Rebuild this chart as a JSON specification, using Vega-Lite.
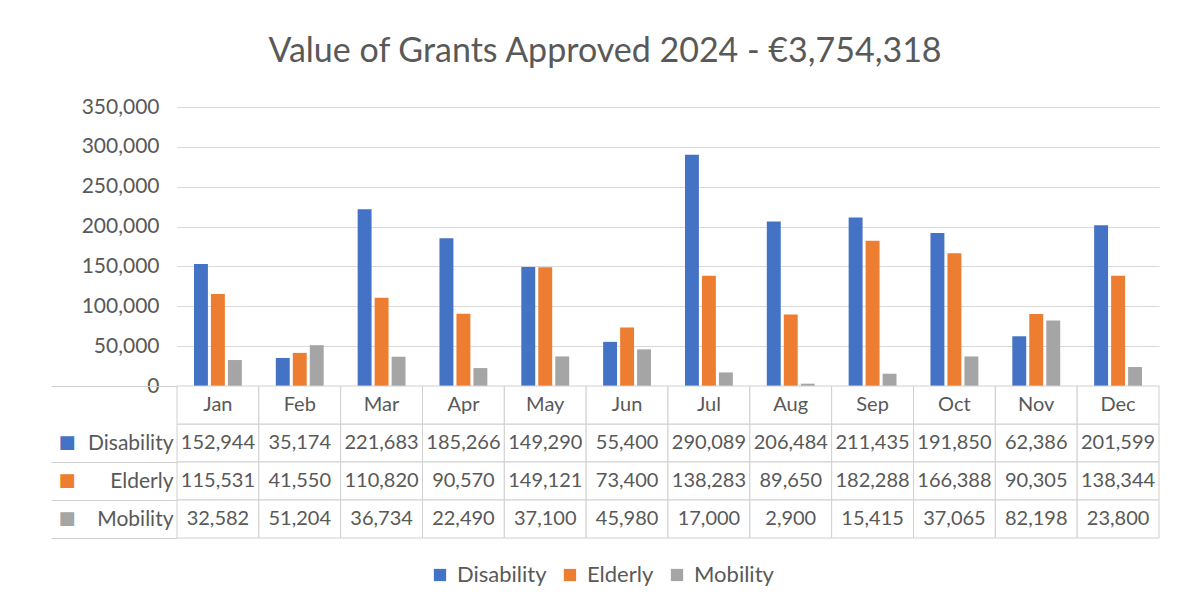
{
  "$schema": "https://vega.github.io/schema/vega-lite/v6.json",
  "background": "white",
  "padding": {"left": 50, "top": 35, "right": 10, "bottom": 8},
  "bounds": "flush",
  "title": {"text": "Value of Grants Approved 2024 - €3,754,318", "fontSize": 34, "font": "Lato", "fontWeight": "normal", "color": "#595959", "anchor": "middle", "offset": 27},
  "data": {"values": [
    {"month": "Jan", "series": "Disability", "value": 152944},
    {"month": "Jan", "series": "Elderly", "value": 115531},
    {"month": "Jan", "series": "Mobility", "value": 32582},
    {"month": "Feb", "series": "Disability", "value": 35174},
    {"month": "Feb", "series": "Elderly", "value": 41550},
    {"month": "Feb", "series": "Mobility", "value": 51204},
    {"month": "Mar", "series": "Disability", "value": 221683},
    {"month": "Mar", "series": "Elderly", "value": 110820},
    {"month": "Mar", "series": "Mobility", "value": 36734},
    {"month": "Apr", "series": "Disability", "value": 185266},
    {"month": "Apr", "series": "Elderly", "value": 90570},
    {"month": "Apr", "series": "Mobility", "value": 22490},
    {"month": "May", "series": "Disability", "value": 149290},
    {"month": "May", "series": "Elderly", "value": 149121},
    {"month": "May", "series": "Mobility", "value": 37100},
    {"month": "Jun", "series": "Disability", "value": 55400},
    {"month": "Jun", "series": "Elderly", "value": 73400},
    {"month": "Jun", "series": "Mobility", "value": 45980},
    {"month": "Jul", "series": "Disability", "value": 290089},
    {"month": "Jul", "series": "Elderly", "value": 138283},
    {"month": "Jul", "series": "Mobility", "value": 17000},
    {"month": "Aug", "series": "Disability", "value": 206484},
    {"month": "Aug", "series": "Elderly", "value": 89650},
    {"month": "Aug", "series": "Mobility", "value": 2900},
    {"month": "Sep", "series": "Disability", "value": 211435},
    {"month": "Sep", "series": "Elderly", "value": 182288},
    {"month": "Sep", "series": "Mobility", "value": 15415},
    {"month": "Oct", "series": "Disability", "value": 191850},
    {"month": "Oct", "series": "Elderly", "value": 166388},
    {"month": "Oct", "series": "Mobility", "value": 37065},
    {"month": "Nov", "series": "Disability", "value": 62386},
    {"month": "Nov", "series": "Elderly", "value": 90305},
    {"month": "Nov", "series": "Mobility", "value": 82198},
    {"month": "Dec", "series": "Disability", "value": 201599},
    {"month": "Dec", "series": "Elderly", "value": 138344},
    {"month": "Dec", "series": "Mobility", "value": 23800}
  ]},
  "spacing": 0,
  "config": {
    "font": "Lato",
    "view": {"stroke": null}
  },
  "vconcat": [
    {
      "width": 982,
      "height": 279,
      "mark": {"type": "bar"},
      "encoding": {
        "x": {"field": "month", "type": "nominal", "sort": ["Jan","Feb","Mar","Apr","May","Jun","Jul","Aug","Sep","Oct","Nov","Dec"], "scale": {"paddingInner": 0, "paddingOuter": 0}, "axis": null},
        "xOffset": {"field": "series", "type": "nominal", "sort": ["Disability","Elderly","Mobility"], "scale": {"paddingInner": 0.18, "paddingOuter": 1.0}},
        "y": {"field": "value", "type": "quantitative", "scale": {"domain": [0, 350000]}, "axis": {"title": null, "values": [0,50000,100000,150000,200000,250000,300000,350000], "labelExpr": "format(datum.value, ',')", "domain": false, "ticks": false, "labelPadding": 18, "gridColor": "#d9d9d9", "labelFontSize": 21, "labelColor": "#595959", "labelFont": "Lato"}},
        "color": {"field": "series", "type": "nominal", "scale": {"domain": ["Disability","Elderly","Mobility"], "range": ["#4472C4","#ED7D31","#A5A5A5"]}, "legend": {"title": null, "orient": "none", "legendX": 252, "legendY": 457, "direction": "horizontal", "symbolType": "square", "symbolSize": 150, "symbolStrokeWidth": 0, "labelFontSize": 22, "labelOffset": 6, "labelColor": "#595959", "labelFont": "Lato", "columnPadding": 12}}
      }
    },
    {
      "width": 982,
      "height": 152,
      "layer": [
        {
          "mark": {"type": "rect", "fill": "white", "stroke": "#d0d0d0", "strokeWidth": 1},
          "encoding": {
            "x": {"field": "month", "type": "nominal", "sort": ["Jan","Feb","Mar","Apr","May","Jun","Jul","Aug","Sep","Oct","Nov","Dec"], "scale": {"paddingInner": 0, "paddingOuter": 0}, "axis": null},
            "y": {"field": "series", "type": "nominal", "scale": {"domain": ["Header","Disability","Elderly","Mobility"], "paddingInner": 0, "paddingOuter": 0}, "axis": {"title": null, "labelExpr": "datum.value === 'Header' ? '' : datum.value", "tickBand": "extent", "ticks": true, "tickSize": 126, "tickColor": "#d0d0d0", "tickOpacity": {"condition": {"test": "datum.value === 'Header'", "value": 0}, "value": 1}, "domain": false, "labelPadding": -122, "labelFontSize": 21, "labelColor": "#595959", "labelFont": "Lato"}}
          }
        },
        {
          "mark": {"type": "text", "fontSize": 20, "color": "#595959", "font": "Lato"},
          "encoding": {
            "x": {"field": "month", "type": "nominal", "sort": ["Jan","Feb","Mar","Apr","May","Jun","Jul","Aug","Sep","Oct","Nov","Dec"], "axis": null},
            "y": {"field": "series", "type": "nominal", "axis": {"title": null, "orient": "left", "offset": 100, "labelExpr": "datum.value === 'Header' ? '' : '■'", "ticks": false, "domain": false, "labelPadding": 2, "labelFontSize": 18, "labelFont": "DejaVu Sans", "labelColor": {"condition": [{"test": "datum.value === 'Disability'", "value": "#4472C4"}, {"test": "datum.value === 'Elderly'", "value": "#ED7D31"}], "value": "#A5A5A5"}}},
            "text": {"field": "value", "type": "quantitative", "format": ","}
          }
        },
        {
          "transform": [{"filter": "datum.series === 'Disability'"}],
          "mark": {"type": "rect", "fill": "white", "stroke": "#d0d0d0", "strokeWidth": 1},
          "encoding": {
            "x": {"field": "month", "type": "nominal", "sort": ["Jan","Feb","Mar","Apr","May","Jun","Jul","Aug","Sep","Oct","Nov","Dec"], "axis": null},
            "y": {"datum": "Header", "type": "nominal", "axis": null}
          }
        },
        {
          "transform": [{"filter": "datum.series === 'Disability'"}],
          "mark": {"type": "text", "fontSize": 20, "color": "#595959", "font": "Lato"},
          "encoding": {
            "x": {"field": "month", "type": "nominal", "sort": ["Jan","Feb","Mar","Apr","May","Jun","Jul","Aug","Sep","Oct","Nov","Dec"], "axis": null},
            "y": {"datum": "Header", "type": "nominal", "axis": null},
            "text": {"field": "month", "type": "nominal"}
          }
        }
      ],
      "resolve": {"axis": {"y": "independent"}}
    }
  ]
}
